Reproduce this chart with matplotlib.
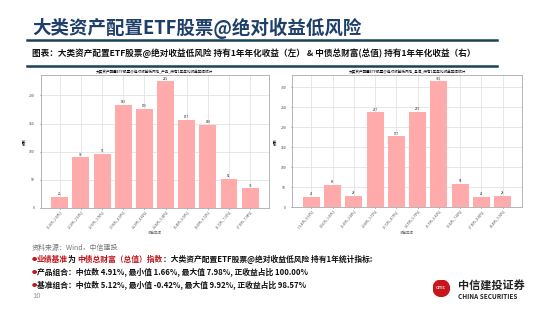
import matplotlib
matplotlib.use("Agg")
import matplotlib.pyplot as plt
from matplotlib.patches import Circle

plt.rcParams["font.family"] = ["Noto Sans CJK SC", "DejaVu Sans"]

# histogram data
left_bins = ["(1.66%, 2.29%]", "(2.29%, 2.93%]", "(2.93%, 3.56%]", "(3.56%, 4.19%]",
             "(4.19%, 4.82%]", "(4.82%, 5.45%]", "(5.45%, 6.09%]", "(6.09%, 6.72%]",
             "(6.72%, 7.35%]", "(7.35%, 7.98%]"]
left_counts = [20, 90, 96, 183, 176, 225, 157, 148, 52, 35]

right_bins = ["(-0.43%, 0.61%]", "(0.61%, 1.65%]", "(1.65%, 2.68%]", "(2.68%, 3.72%]",
              "(3.72%, 4.75%]", "(4.75%, 5.79%]", "(5.79%, 6.82%]", "(6.82%, 7.85%]",
              "(7.85%, 8.89%]", "(8.89%, 9.92%]"]
right_counts = [26, 56, 28, 237, 177, 239, 315, 58, 26, 28]

left_title = "大类资产配置ETF股票@绝对收益低风险_产品_持有1年年化收益区间统计"
right_title = "大类资产配置ETF股票@绝对收益低风险_基准_持有1年年化收益区间统计"

BAR = "#FFABAB"
NAVY = "#1F3F6B"
RED = "#C0161C"

fig = plt.figure(figsize=(5.5, 3.09), dpi=100)


def draw_hist(ax, labels, counts, title):
    x = list(range(len(counts)))
    bars = ax.bar(x, counts, width=0.8, color=BAR, zorder=2)
    for b, c in zip(bars, counts):
        ax.text(b.get_x() + b.get_width() / 2, c + 1, str(c), ha="center",
                va="bottom", fontsize=2.2, color="#333333")
    ax.set_xticks(x)
    ax.set_xticklabels(labels, rotation=50, ha="right", rotation_mode="anchor",
                       fontsize=2.2, color="#444444")
    ax.tick_params(axis="y", labelsize=2.5, colors="#444444", length=1, width=0.4)
    ax.tick_params(axis="x", length=1, width=0.4, pad=1)
    ax.grid(True, color="#DDDDDD", linewidth=0.5, zorder=0)
    for s in ax.spines.values():
        s.set_color("#AAAAAA")
        s.set_linewidth(0.6)
    ax.set_title(title, fontsize=2.6, pad=1.5)
    ax.set_ylabel("频数", fontsize=2.5, labelpad=2)
    ax.set_xlabel("收益区间", fontsize=2.5, labelpad=1, color="#666666")


ax1 = fig.add_axes([0.0745, 0.327, 0.4145, 0.430])
draw_hist(ax1, left_bins, left_counts, left_title)
ax2 = fig.add_axes([0.5315, 0.330, 0.417, 0.427])
draw_hist(ax2, right_bins, right_counts, right_title)

# header
fig.text(32 / 550, 1 - 28 / 309, "大类资产配置ETF股票@绝对收益低风险", fontsize=13.3,
         fontweight="bold", color=NAVY, va="center", ha="left")
fig.add_artist(plt.Line2D([27 / 550, 497 / 550], [1 - 40 / 309] * 2, color="#1C4257",
                          linewidth=1.8))
fig.text(32 / 550, 1 - 53 / 309,
         "图表：大类资产配置ETF股票@绝对收益低风险 持有1年年化收益（左） & 中债总财富(总值) 持有1年年化收益（右）",
         fontsize=6.2, fontweight="bold", color="#111111", va="center", ha="left")
fig.add_artist(plt.Line2D([27 / 550, 497 / 550], [1 - 66 / 309] * 2, color="#1C4257",
                          linewidth=1.8))

# footer notes
fig.text(32 / 550, 1 - 248 / 309, "资料来源：Wind，中信建投", fontsize=5, style="italic",
         color="#777777", va="center")

renderer = fig.canvas.get_renderer()


def bullet(y):
    fig.text(31.5 / 550, y, "●", fontsize=3.8, color=RED, va="center")


y1 = 1 - 259.5 / 309
bullet(y1)
parts = [("业绩基准", RED), ("为 ", "#111111"), ("中债总财富（总值）指数", RED),
         ("：大类资产配置ETF股票@绝对收益低风险 持有1年统计指标:", "#111111")]
xpos = 37 / 550
for txt, col in parts:
    t = fig.text(xpos, y1, txt, fontsize=5.6, fontweight="bold", color=col, va="center")
    bb = t.get_window_extent(renderer=renderer)
    xpos += bb.width / fig.bbox.width

lines = ["产品组合：中位数 4.91%, 最小值 1.66%, 最大值 7.98%, 正收益占比 100.00%",
         "基准组合：中位数 5.12%, 最小值 -0.42%, 最大值 9.92%, 正收益占比 98.57%"]
for i, ln in enumerate(lines):
    y = 1 - (273 + 12.5 * i) / 309
    bullet(y)
    fig.text(37 / 550, y, ln, fontsize=5.6, fontweight="bold", color="#111111", va="center")

fig.text(32 / 550, 1 - 296 / 309, "10", fontsize=5.5, color="#999999", va="center")

# logo
ax_logo = fig.add_axes([433 / 550, 1 - 296.5 / 309, 16.5 / 550, 16.5 / 309])
ax_logo.add_patch(Circle((0.5, 0.5), 0.5, color="#C8161D"))
ax_logo.text(0.5, 0.5, "CITIC", fontsize=2.8, color="white", ha="center", va="center",
             fontweight="bold")
ax_logo.set_xlim(0, 1)
ax_logo.set_ylim(0, 1)
ax_logo.axis("off")
fig.text(458 / 550, 1 - 285.5 / 309, "中信建投证券", fontsize=8, fontweight="bold",
         color="#222222", va="center")
fig.text(458 / 550, 1 - 296.5 / 309, "CHINA SECURITIES", fontsize=4.6, fontweight="bold",
         color="#222222", va="center")

fig.savefig("out.png", dpi=100)
